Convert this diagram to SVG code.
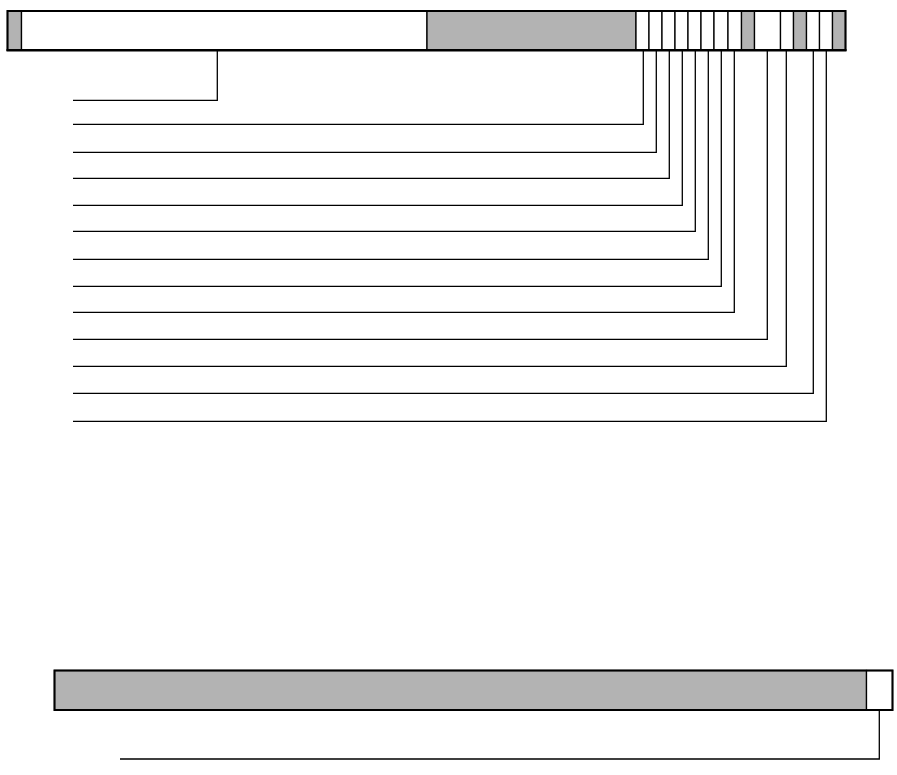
<svg xmlns="http://www.w3.org/2000/svg" width="897" height="775" viewBox="0 0 897 775">
<style>
.g{fill:#b3b3b3;stroke:#000;stroke-width:1.3}
.w{fill:#fff;stroke:#000;stroke-width:1.3}
.frame{fill:none;stroke:#000;stroke-width:2}
.c{fill:none;stroke:#000;stroke-width:1.3}
</style>
<rect width="897" height="775" fill="#fff"/>
<g id="top-bar">
<g id="t0"><rect class="g" x="7.5" y="11" width="14" height="39"/></g>
<g id="t1"><rect class="w" x="21.5" y="11" width="405.5" height="39"/></g>
<g id="t2"><rect class="g" x="427" y="11" width="209" height="39"/></g>
<g id="t3"><rect class="w" x="636" y="11" width="13" height="39"/></g>
<g id="t4"><rect class="w" x="649" y="11" width="13" height="39"/></g>
<g id="t5"><rect class="w" x="662" y="11" width="13" height="39"/></g>
<g id="t6"><rect class="w" x="675" y="11" width="13" height="39"/></g>
<g id="t7"><rect class="w" x="688" y="11" width="13" height="39"/></g>
<g id="t8"><rect class="w" x="701" y="11" width="13" height="39"/></g>
<g id="t9"><rect class="w" x="714" y="11" width="14" height="39"/></g>
<g id="t10"><rect class="w" x="728" y="11" width="13.5" height="39"/></g>
<g id="t11"><rect class="g" x="741.5" y="11" width="13" height="39"/></g>
<g id="t12"><rect class="w" x="754.5" y="11" width="26" height="39"/></g>
<g id="t13"><rect class="w" x="780.5" y="11" width="13" height="39"/></g>
<g id="t14"><rect class="g" x="793.5" y="11" width="13" height="39"/></g>
<g id="t15"><rect class="w" x="806.5" y="11" width="13" height="39"/></g>
<g id="t16"><rect class="w" x="819.5" y="11" width="13" height="39"/></g>
<g id="t17"><rect class="g" x="832.5" y="11" width="13" height="39"/></g>
<rect class="frame" x="7.5" y="11" width="838" height="39"/>
<line x1="6.5" y1="50.3" x2="846.5" y2="50.3" stroke="#000" stroke-width="2.6"/>
</g>
<g id="bottom-bar">
<g id="b0"><rect class="g" x="54.5" y="670.5" width="812" height="39.5"/></g>
<g id="b1"><rect class="w" x="866.5" y="670.5" width="26" height="39.5"/></g>
<rect class="frame" x="54.5" y="670.5" width="838" height="39.5" stroke-width="2.4"/>
</g>
<g id="connectors">
<polyline class="c" points="217.3,51 217.3,100.3 73,100.3"/>
<polyline class="c" points="643.3,51 643.3,124.3 73,124.3"/>
<polyline class="c" points="656.3,51 656.3,152.3 73,152.3"/>
<polyline class="c" points="669.3,51 669.3,178.3 73,178.3"/>
<polyline class="c" points="682.3,51 682.3,205.3 73,205.3"/>
<polyline class="c" points="695.3,51 695.3,231.3 73,231.3"/>
<polyline class="c" points="708.3,51 708.3,259.3 73,259.3"/>
<polyline class="c" points="721.3,51 721.3,286.3 73,286.3"/>
<polyline class="c" points="734.3,51 734.3,312.3 73,312.3"/>
<polyline class="c" points="767.3,51 767.3,339.3 73,339.3"/>
<polyline class="c" points="786.3,51 786.3,366.3 73,366.3"/>
<polyline class="c" points="813.3,51 813.3,393.3 73,393.3"/>
<polyline class="c" points="826.3,51 826.3,421.3 73,421.3"/>
<polyline class="c" points="879.3,711 879.3,759 120,759"/>
</g>
</svg>
